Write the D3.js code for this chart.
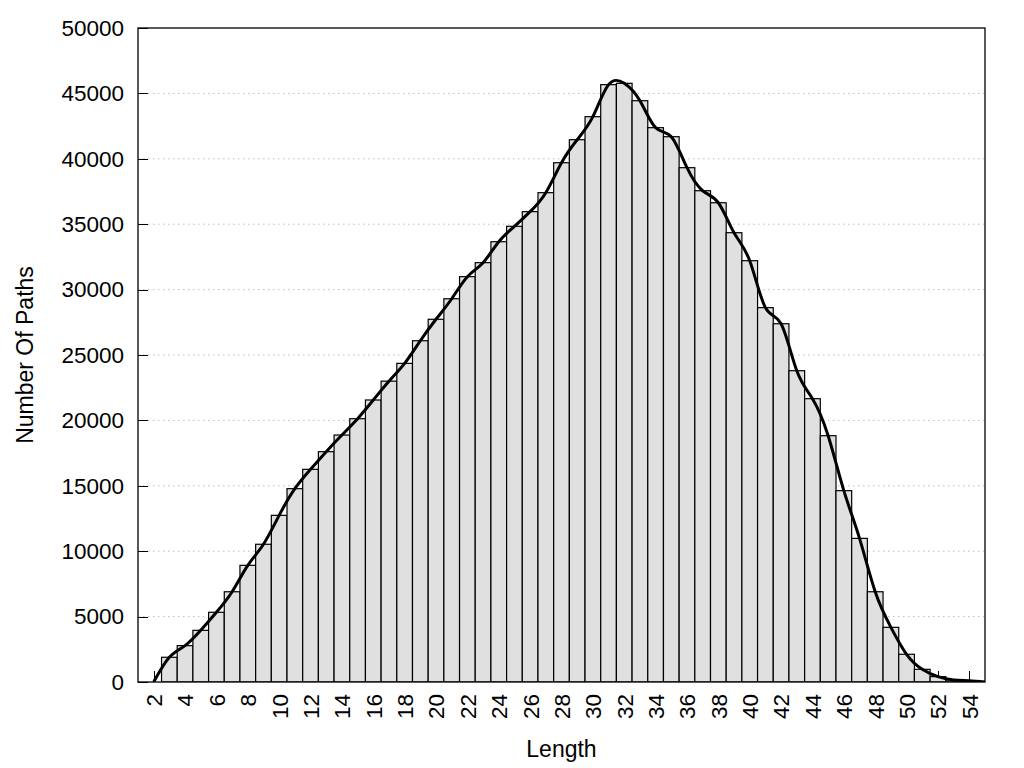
<!DOCTYPE html>
<html>
<head>
<meta charset="utf-8">
<script src="https://cdn.jsdelivr.net/npm/d3@7"></script>
<style>
  html, body { margin: 0; padding: 0; background: #fff; }
  svg { display: block; font-family: "Liberation Sans", Arial, sans-serif; }
</style>
</head>
<body>
<svg id="chart" width="1024" height="768"></svg>
<script>
// ---- data ----
const lengths = [3,4,5,6,7,8,9,10,11,12,13,14,15,16,17,18,19,20,21,22,23,24,25,26,27,28,
                 29,30,31,32,33,34,35,36,37,38,39,40,41,42,43,44,45,46,47,48,49,50,51,52,53,54];
const counts  = [1890,2780,3950,5330,6900,8920,10530,12740,14780,16260,17610,18880,20130,21560,
                 23000,24360,26090,27730,29300,30990,32060,33660,34840,35960,37410,39700,41460,
                 43220,45670,45770,44440,42380,41690,39320,37560,36640,34350,32210,28620,27390,
                 23800,21660,18830,14630,10980,6900,4180,2120,970,410,150,100];
// smooth curve end points (start and end of the fitted line)
const curveStart = [2, 0];
const curveEnd = [55, 0];
const xTicks = [2,4,6,8,10,12,14,16,18,20,22,24,26,28,30,32,34,36,38,40,42,44,46,48,50,52,54];
const yTicks = [0,5000,10000,15000,20000,25000,30000,35000,40000,45000,50000];
const xTitle = "Length";
const yTitle = "Number Of Paths";

// ---- layout ----
const L = 138, R = 985, T = 28, B = 682;
const svg = d3.select("#chart");
const x = d3.scaleLinear().domain([1, 55]).range([L, R]);
const y = d3.scaleLinear().domain([0, 50000]).range([B, T]);

svg.append("defs").append("clipPath").attr("id", "clip")
  .append("rect").attr("x", L).attr("y", T).attr("width", R - L).attr("height", B - T);

// gridlines
svg.append("g").selectAll("line").data(yTicks.filter(d => d > 0 && d < 50000)).join("line")
  .attr("x1", L).attr("x2", R)
  .attr("y1", d => y(d)).attr("y2", d => y(d))
  .attr("stroke", "#bdbdbd").attr("stroke-width", 1)
  .attr("stroke-dasharray", "1.5,3.5");

// inward ticks (behind bars)
const tickG = svg.append("g").attr("stroke", "#000").attr("stroke-width", 1);
tickG.selectAll("line.xt").data(xTicks).join("line").attr("class", "xt")
  .attr("x1", d => Math.round(x(d)) + 0.5).attr("x2", d => Math.round(x(d)) + 0.5)
  .attr("y1", B).attr("y2", B - 11);
tickG.selectAll("line.yt").data(yTicks).join("line").attr("class", "yt")
  .attr("x1", L).attr("x2", L + 10)
  .attr("y1", d => Math.round(y(d)) + 0.5).attr("y2", d => Math.round(y(d)) + 0.5);

// bars
const g = svg.append("g").attr("clip-path", "url(#clip)");
g.selectAll("rect").data(lengths.map((l, i) => ({l, v: counts[i]}))).join("rect")
  .attr("x", d => x(d.l - 0.5))
  .attr("width", d => x(d.l + 0.5) - x(d.l - 0.5))
  .attr("y", d => y(d.v))
  .attr("height", d => y(0) - y(d.v))
  .attr("fill", "#e0e0e0")
  .attr("stroke", "#000").attr("stroke-width", 1.2);

// smooth line
const pts = [curveStart].concat(lengths.map((l, i) => [l, counts[i]]), [curveEnd]);
g.append("path").datum(pts)
  .attr("d", d3.line().x(d => x(d[0])).y(d => y(d[1])).curve(d3.curveNatural))
  .attr("fill", "none").attr("stroke", "#000").attr("stroke-width", 3)
  .attr("stroke-linejoin", "round");

// border
svg.append("rect").attr("x", L).attr("y", T).attr("width", R - L).attr("height", B - T)
  .attr("fill", "none").attr("stroke", "#000").attr("stroke-width", 1.3);

// axes labels via d3 axes (tick lines hidden; inward ticks drawn above)
const yAxis = svg.append("g").attr("transform", `translate(${L},0)`)
  .call(d3.axisLeft(y).tickValues(yTicks).tickSize(0).tickPadding(14).tickFormat(d3.format("d")));
yAxis.select(".domain").remove();
yAxis.selectAll("text").attr("font-size", 22.5).attr("fill", "#000")
  .attr("font-family", "Liberation Sans, Arial, sans-serif");

const xAxis = svg.append("g").attr("transform", `translate(0,${B})`)
  .call(d3.axisBottom(x).tickValues(xTicks).tickSize(0).tickFormat(d3.format("d")));
xAxis.select(".domain").remove();
xAxis.selectAll("text")
  .attr("font-size", 22.5).attr("fill", "#000")
  .attr("font-family", "Liberation Sans, Arial, sans-serif")
  .attr("text-anchor", "end")
  .attr("transform", "translate(0,12) rotate(-90)")
  .attr("x", 0).attr("y", 0).attr("dy", "0.35em");

// titles
svg.append("text").attr("x", (L + R) / 2).attr("y", 757)
  .attr("text-anchor", "middle").attr("font-size", 23).text(xTitle);
svg.append("text").attr("transform", `translate(33,${(T + B) / 2}) rotate(-90)`)
  .attr("text-anchor", "middle").attr("font-size", 23).text(yTitle);
</script>
</body>
</html>
